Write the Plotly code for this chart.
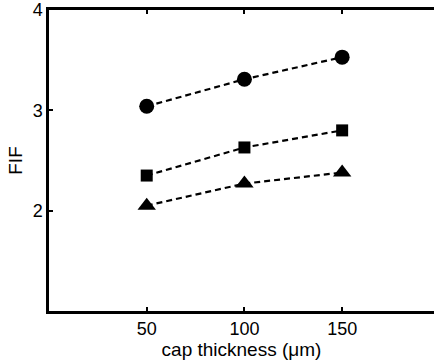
import plotly.graph_objects as go

thickness = [50, 100, 150]
fif_circle = [3.04, 3.31, 3.53]
fif_square = [2.35, 2.63, 2.80]
fif_triangle = [2.05, 2.27, 2.38]

x_ticks = [50, 100, 150]
y_ticks = [1, 2, 3, 4]
y_ticktext = ["", "2", "3", "4"]

fig = go.Figure()
for ys, sym, size in [(fif_circle, "circle", 15), (fif_square, "square", 12), (fif_triangle, "triangle-up", 16)]:
    fig.add_trace(go.Scatter(
        x=thickness, y=ys, mode="lines+markers",
        line=dict(color="black", width=2.2, dash="6px,4px"),
        marker=dict(symbol=sym, size=size, color="black"),
        showlegend=False,
    ))

tfont = dict(family="Liberation Sans, Arial, sans-serif", size=18, color="black")
font = dict(family="Liberation Sans, Arial, sans-serif", size=19, color="black")
fig.update_layout(
    width=434, height=362,
    margin=dict(l=49, r=0, t=10, b=51),
    paper_bgcolor="white", plot_bgcolor="white",
    font=tfont,
    xaxis=dict(
        range=[0, 197], tickvals=x_ticks, ticks="inside", ticklen=4, tickwidth=2,
        tickcolor="black", showline=True, linecolor="black", linewidth=2.5,
        mirror="ticks", showgrid=False, zeroline=False,
        tickfont=tfont,
        title=dict(text="cap thickness (μm)", standoff=0, font=font),
    ),
    yaxis=dict(
        range=[1, 4], tickvals=y_ticks, ticktext=y_ticktext, ticks="inside", ticklen=4,
        tickwidth=2, tickcolor="black", showline=True, linecolor="black", linewidth=2.5,
        mirror=False, showgrid=False, zeroline=False,
        tickfont=tfont,
        title=dict(text="FIF", standoff=5, font=font),
    ),
)
fig.write_html("out.html")
